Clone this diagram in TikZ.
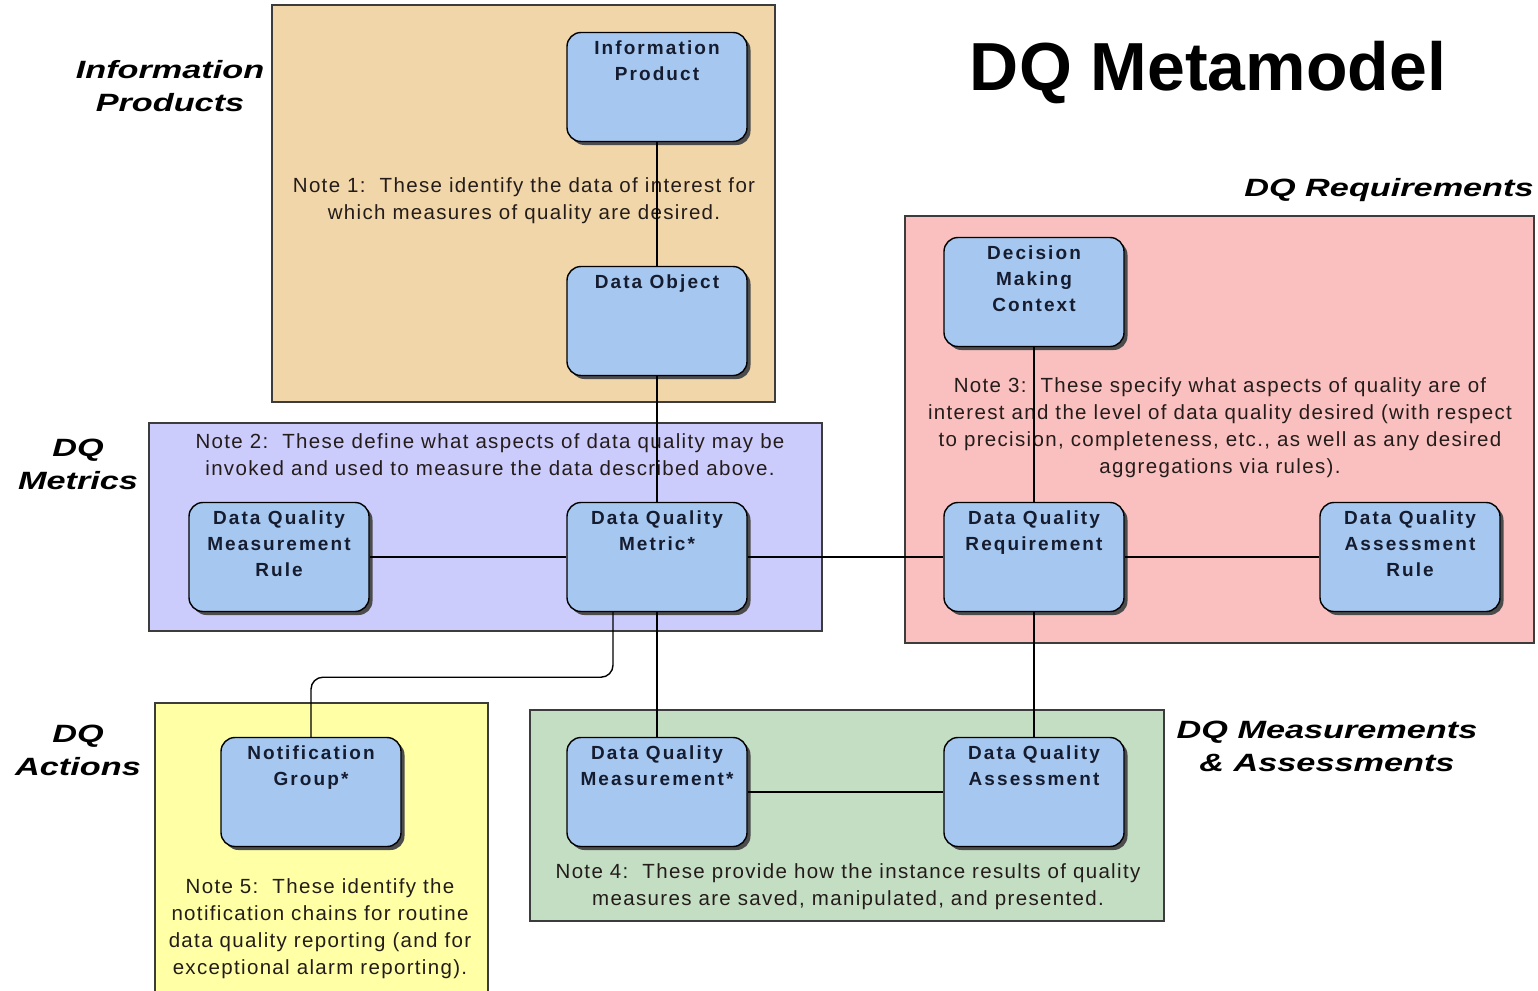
\documentclass[tikz,border=0pt]{standalone}
\usepackage{fontspec}
\setmainfont{Liberation Sans}
\newfontfamily\nodefont[LetterSpace=11]{Liberation Sans}
\newfontfamily\notefont[LetterSpace=6.5]{Liberation Sans}
\newfontfamily\titlefont[FakeStretch=1.37]{Liberation Sans}
\usetikzlibrary{shadows}
\definecolor{ipfill}{RGB}{240,214,168}
\definecolor{metfill}{RGB}{204,204,252}
\definecolor{reqfill}{RGB}{250,192,192}
\definecolor{actfill}{RGB}{255,255,165}
\definecolor{measfill}{RGB}{196,222,196}
\definecolor{nodeblue}{RGB}{166,200,240}
\definecolor{nodetext}{RGB}{22,28,48}
\definecolor{notetext}{RGB}{36,28,26}
\definecolor{framegray}{RGB}{60,60,60}
\tikzset{
  region/.style={draw=framegray, line width=1.3pt},
  entity/.style={draw=black, line width=1.4pt, fill=nodeblue, rounded corners=14pt,
    minimum width=180pt, minimum height=109pt,
    drop shadow={shadow xshift=3.5pt, shadow yshift=-3.5pt, fill=black!70, opacity=1}},
  entlbl/.style={anchor=north, yshift=-5pt, align=center, text=nodetext,
    font=\nodefont\bfseries\fontsize{19}{26}\selectfont},
  note/.style={align=center, text=notetext, font=\notefont\fontsize{20.5}{27}\selectfont},
  area/.style={align=center, font=\titlefont\bfseries\itshape\fontsize{25}{33}\selectfont},
  conn/.style={draw=black, line width=1.4pt},
}
\begin{document}
\begin{tikzpicture}[x=1pt,y=-1pt]
\useasboundingbox[fill=white] (0,0) rectangle (1538,990);
% regions
\path[region, fill=ipfill] (272,5) rectangle (775,402);
\path[region, fill=metfill] (149,423) rectangle (822,631);
\path[region, fill=reqfill] (905,216) rectangle (1534,643);
\path[region, fill=actfill] (155,703) rectangle (488,995);
\path[region, fill=measfill] (530,710) rectangle (1164,921);
% titles
\node[font=\bfseries\fontsize{68}{74}\selectfont] (title) at (1208,73) {DQ Metamodel};
\node[area] (tip) at (170,86) {Information\\Products};
\node[area] (tmet) at (78,464) {DQ\\Metrics};
\node[area] (tact) at (78,750) {DQ\\Actions};
\node[area] (treq) at (1389,190) {DQ Requirements};
\node[area] (tmeas) at (1327,746) {DQ Measurements\\\& Assessments};
% notes
\node[note] (n1) at (524,201) {Note 1:\ \ These identify the data of interest for\\which measures of quality are desired.};
\node[note] (n2) at (490,455) {Note 2:\ \ These define what aspects of data quality may be\\invoked and used to measure the data described above.};
\node[note] (n3) at (1220,428) {Note 3:\ \ These specify what aspects of quality are of\\interest and the level of data quality desired (with respect\\to precision, completeness, etc., as well as any desired\\aggregations via rules).};
\node[note] (n4) at (848,887) {Note 4:\ \ These provide how the instance results of quality\\measures are saved, manipulated, and presented.};
\node[note] (n5) at (320,929) {Note 5:\ \ These identify the\\notification chains for routine\\data quality reporting (and for\\exceptional alarm reporting).};
% entities
\node[entity, label={[entlbl]north:Information\\Product}] (ip) at (657,87) {};
\node[entity, label={[entlbl]north:Data Object}] (do) at (657,321) {};
\node[entity, label={[entlbl]north:Data Quality\\Measurement\\Rule}] (dqmr) at (279,557) {};
\node[entity, label={[entlbl]north:Data Quality\\Metric*}] (dqm) at (657,557) {};
\node[entity, label={[entlbl]north:Decision\\Making\\Context}] (dmc) at (1034,292) {};
\node[entity, label={[entlbl]north:Data Quality\\Requirement}] (dqr) at (1034,557) {};
\node[entity, label={[entlbl]north:Data Quality\\Assessment\\Rule}] (dqar) at (1410,557) {};
\node[entity, label={[entlbl]north:Notification\\Group*}] (ng) at (311,792) {};
\node[entity, label={[entlbl]north:Data Quality\\Measurement*}] (meas) at (657,792) {};
\node[entity, label={[entlbl]north:Data Quality\\Assessment}] (ass) at (1034,792) {};
% connectors
\draw[conn] (ip) -- (do);
\draw[conn] (do) -- (dqm);
\draw[conn] (dqmr) -- (dqm);
\draw[conn] (dqm) -- (dqr);
\draw[conn] (dqr) -- (dqar);
\draw[conn] (dmc) -- (dqr);
\draw[conn] (dqr) -- (ass);
\draw[conn] (dqm) -- (meas);
\draw[conn] (meas) -- (ass);
\draw[conn, rounded corners=12pt] ([xshift=-44pt]dqm.south) -- ++(0,65) -| (ng.north);
\end{tikzpicture}
\end{document}
